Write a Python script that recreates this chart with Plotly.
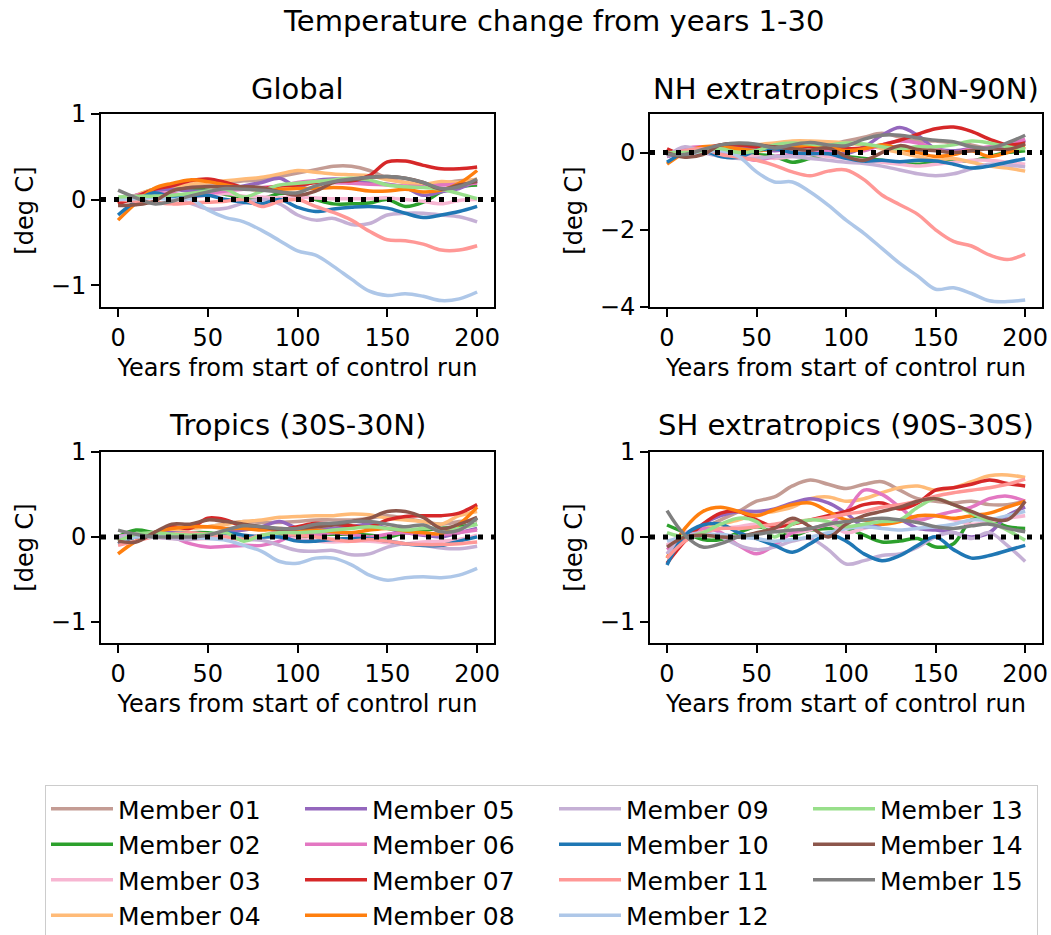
import plotly.graph_objects as go

# ---------------------------------------------------------------------------
# Data: temperature change (deg C) relative to years 1-30, sampled every 10 yr
# ---------------------------------------------------------------------------
YEARS = list(range(0, 201, 10))

MEMBERS = [f"Member {i:02d}" for i in range(1, 16)]

COLORS = [
    "#c49c94", "#2ca02c", "#f7b6d2", "#ffbb78", "#9467bd",
    "#e377c2", "#d62728", "#ff7f0e", "#c5b0d5", "#1f77b4",
    "#ff9896", "#aec7e8", "#98df8a", "#8c564b", "#7f7f7f",
]

GLOBAL = [
    [-0.03, 0.0, 0.08, 0.15, 0.17, 0.18, 0.19, 0.22, 0.23, 0.27, 0.31, 0.35, 0.39, 0.39, 0.34, 0.25, 0.2, 0.17, 0.19, 0.22, 0.23],
    [0.0, 0.05, 0.12, 0.15, 0.13, 0.11, 0.06, 0.03, 0.01, 0.07, 0.06, 0.0, -0.05, -0.05, -0.04, 0.0, -0.08, -0.03, 0.09, 0.15, 0.17],
    [-0.02, 0.02, 0.05, 0.0, 0.02, 0.05, 0.07, 0.04, 0.03, 0.02, 0.03, 0.02, 0.01, 0.01, 0.01, 0.02, 0.0, -0.02, -0.05, -0.01, 0.0],
    [-0.05, 0.05, 0.12, 0.15, 0.18, 0.2, 0.22, 0.24, 0.26, 0.3, 0.34, 0.32, 0.3, 0.29, 0.28, 0.23, 0.2, 0.18, 0.21, 0.2, 0.24],
    [-0.02, 0.03, 0.1, 0.12, 0.1, 0.1, 0.12, 0.16, 0.2, 0.25, 0.15, 0.22, 0.24, 0.23, 0.2, 0.18, 0.14, 0.05, 0.09, 0.13, 0.22],
    [-0.02, 0.05, 0.08, 0.07, 0.05, 0.07, 0.1, 0.12, 0.14, 0.16, 0.2, 0.22, 0.2, 0.19, 0.18, 0.17, 0.16, 0.15, 0.17, 0.18, 0.19],
    [-0.05, 0.03, 0.12, 0.16, 0.22, 0.24, 0.2, 0.14, 0.13, 0.16, 0.17, 0.2, 0.22, 0.22, 0.28, 0.44, 0.45, 0.4, 0.36, 0.36, 0.38],
    [-0.24, -0.04, 0.13, 0.19, 0.23, 0.21, 0.17, 0.13, 0.11, 0.12, 0.13, 0.13, 0.14, 0.13, 0.1, 0.1, 0.12, 0.09, 0.11, 0.19, 0.34],
    [0.0, 0.03, 0.05, 0.02, -0.04, -0.11, -0.1, -0.04, 0.0, -0.05, -0.18, -0.24, -0.22, -0.29, -0.28, -0.18, -0.16, -0.16, -0.18, -0.2, -0.26],
    [-0.18, -0.02, 0.08, 0.03, 0.04, 0.05, 0.0, -0.03, -0.05, 0.0, -0.09, -0.14, -0.11, -0.09, -0.08, -0.1, -0.16, -0.21, -0.18, -0.14, -0.08],
    [0.0, -0.02, -0.03, -0.05, -0.04, -0.03, -0.02, 0.0, -0.08, -0.02, 0.0, -0.08, -0.15, -0.24, -0.37, -0.47, -0.48, -0.52, -0.59, -0.59, -0.54],
    [0.0, 0.01, 0.02, 0.0, 0.01, -0.12, -0.21, -0.26, -0.36, -0.48, -0.6, -0.65, -0.78, -0.93, -1.07, -1.12, -1.1, -1.13, -1.18, -1.16, -1.08],
    [0.03, 0.04, 0.04, 0.05, 0.07, 0.1, 0.12, 0.03, 0.1, 0.17, 0.19, 0.21, 0.23, 0.25, 0.23, 0.17, 0.15, 0.14, 0.12, 0.07, 0.01],
    [-0.07, -0.06, -0.02, 0.1, 0.14, 0.15, 0.15, 0.15, 0.14, 0.09, 0.05, 0.1, 0.2, 0.23, 0.26, 0.27, 0.25, 0.2, 0.12, 0.17, 0.21],
    [0.11, 0.02, -0.05, -0.02, 0.04, 0.09, 0.13, 0.12, 0.11, 0.09, 0.08, 0.16, 0.21, 0.24, 0.26, 0.27, 0.25, 0.2, 0.13, 0.15, 0.24],
]

NH = [
    [0.0, -0.1, 0.0, 0.2, 0.2, 0.15, 0.1, 0.2, 0.25, 0.2, 0.3, 0.4, 0.5, 0.4, 0.3, 0.3, 0.25, 0.2, 0.1, 0.15, 0.3],
    [-0.05, -0.05, 0.0, 0.05, 0.0, -0.05, -0.1, -0.25, -0.15, -0.05, -0.1, -0.15, -0.2, -0.28, -0.3, -0.25, -0.22, -0.22, -0.1, 0.0, 0.05],
    [-0.05, 0.0, 0.05, 0.0, -0.05, -0.1, -0.15, -0.1, -0.05, -0.1, -0.15, -0.2, -0.25, -0.3, -0.35, -0.3, -0.25, -0.2, -0.2, -0.25, -0.3],
    [-0.1, 0.05, 0.1, 0.05, 0.1, 0.2, 0.25, 0.3, 0.3, 0.28, 0.25, 0.2, 0.1, 0.0, -0.1, -0.2, -0.15, -0.25, -0.35, -0.4, -0.48],
    [-0.1, 0.0, 0.05, 0.1, 0.15, 0.1, 0.05, 0.1, 0.05, 0.0, -0.02, 0.15, 0.45, 0.65, 0.45, 0.1, 0.05, 0.1, 0.1, 0.15, 0.32],
    [-0.1, 0.1, 0.15, 0.0, -0.1, -0.2, -0.1, -0.05, 0.0, 0.05, 0.1, 0.05, 0.2, 0.3, 0.25, 0.1, 0.0, 0.1, 0.15, 0.2, 0.35],
    [0.1, -0.05, 0.1, 0.2, 0.2, 0.15, 0.15, 0.18, 0.15, 0.12, 0.1, 0.12, 0.2, 0.32, 0.48, 0.62, 0.66, 0.55, 0.35, 0.2, 0.25],
    [-0.3, 0.0, 0.15, 0.15, 0.1, 0.05, 0.1, 0.15, 0.2, 0.15, 0.05, 0.1, 0.2, 0.1, 0.0, -0.1, -0.05, 0.05, -0.1, 0.0, 0.15],
    [-0.1, 0.15, 0.0, -0.1, -0.15, -0.15, -0.1, -0.1, -0.15, -0.2, -0.25, -0.28, -0.35, -0.45, -0.55, -0.6, -0.55, -0.42, -0.3, -0.32, -0.37],
    [-0.25, 0.0, 0.05, -0.1, -0.12, 0.05, 0.1, 0.0, -0.03, -0.03, -0.15, -0.22, -0.2, -0.24, -0.2, -0.22, -0.3, -0.4, -0.35, -0.25, -0.16],
    [-0.05, 0.05, 0.1, -0.05, -0.12, -0.2, -0.33, -0.5, -0.6, -0.48, -0.45, -0.7, -1.1, -1.35, -1.6, -2.0, -2.3, -2.42, -2.65, -2.77, -2.63],
    [0.0, -0.05, 0.0, 0.05, -0.1, -0.5, -0.76, -0.76, -1.02, -1.36, -1.75, -2.09, -2.48, -2.87, -3.2, -3.54, -3.5, -3.65, -3.84, -3.86, -3.82],
    [0.0, 0.0, 0.05, 0.1, 0.0, 0.05, 0.2, 0.25, 0.22, 0.2, 0.25, 0.22, 0.15, 0.1, 0.15, 0.15, 0.2, 0.3, 0.25, 0.15, 0.1],
    [0.0, -0.12, -0.05, 0.2, 0.23, 0.2, 0.15, 0.1, 0.06, 0.12, -0.1, -0.2, 0.0, 0.18, 0.08, 0.05, 0.0, 0.05, 0.1, 0.08, 0.22],
    [-0.05, -0.05, 0.08, 0.2, 0.25, 0.22, 0.12, 0.2, 0.26, 0.2, 0.18, 0.35, 0.45, 0.45, 0.38, 0.32, 0.28, 0.15, 0.12, 0.25, 0.45],
]

TROPICS = [
    [0.0, 0.02, 0.05, 0.08, 0.1, 0.12, 0.15, 0.18, 0.17, 0.17, 0.18, 0.2, 0.2, 0.2, 0.22, 0.25, 0.22, 0.18, 0.15, 0.18, 0.2],
    [0.0, 0.08, 0.05, 0.03, 0.05, 0.05, 0.02, 0.0, 0.0, 0.02, 0.0, 0.02, 0.03, 0.03, 0.02, 0.0, 0.05, 0.08, 0.1, 0.12, 0.15],
    [0.0, 0.03, 0.0, -0.02, -0.03, -0.02, 0.0, 0.02, 0.0, 0.0, -0.02, -0.05, -0.06, -0.05, -0.05, -0.07, -0.08, -0.06, -0.05, -0.03, 0.02],
    [-0.05, 0.02, 0.05, 0.08, 0.1, 0.12, 0.15, 0.18, 0.2, 0.23, 0.24, 0.25, 0.25, 0.27, 0.26, 0.22, 0.2, 0.18, 0.15, 0.25, 0.3],
    [0.0, 0.02, 0.05, 0.05, 0.03, 0.02, 0.05, 0.08, 0.12, 0.18, 0.1, 0.08, 0.1, 0.12, 0.15, 0.1, 0.05, 0.02, 0.0, 0.05, 0.1],
    [0.0, 0.03, 0.03, 0.0, -0.08, -0.12, -0.11, -0.1, -0.1, -0.05, 0.05, 0.02, 0.05, 0.03, 0.0, 0.03, 0.05, 0.03, 0.03, 0.05, 0.08],
    [-0.05, 0.0, 0.05, 0.12, 0.1, 0.22, 0.2, 0.12, 0.1, 0.08, 0.12, 0.16, 0.15, 0.13, 0.12, 0.2, 0.24, 0.25, 0.25, 0.28, 0.38],
    [-0.2, -0.05, 0.05, 0.1, 0.12, 0.12, 0.1, 0.1, 0.08, 0.1, 0.07, 0.08, 0.06, 0.05, 0.08, 0.1, 0.07, 0.05, 0.04, 0.15, 0.35],
    [0.0, 0.02, 0.0, -0.02, -0.03, 0.0, 0.02, -0.03, -0.04, -0.1, -0.16, -0.17, -0.16, -0.21, -0.2, -0.12, -0.08, -0.1, -0.13, -0.14, -0.11],
    [-0.08, 0.0, 0.02, 0.03, 0.05, 0.03, 0.05, 0.02, 0.0, 0.0, -0.05, -0.05, -0.03, -0.02, -0.02, -0.05, -0.08, -0.1, -0.1, -0.05, 0.0],
    [-0.1, -0.05, 0.0, 0.03, 0.05, 0.03, 0.0, -0.03, 0.02, 0.05, 0.02, 0.0, -0.03, -0.05, -0.03, -0.05, -0.08, -0.09, -0.09, -0.08, -0.06],
    [-0.05, 0.0, 0.0, 0.02, 0.0, -0.02, -0.04, -0.1, -0.17, -0.29, -0.31, -0.25, -0.25, -0.33, -0.45, -0.51, -0.48, -0.47, -0.48, -0.45, -0.37],
    [-0.05, 0.03, 0.05, 0.03, 0.02, 0.03, 0.05, -0.05, 0.02, 0.05, 0.05, 0.06, 0.08, 0.1, 0.12, 0.1, 0.08, 0.1, 0.1, 0.1, 0.15],
    [-0.05, -0.06, 0.05, 0.15, 0.15, 0.2, 0.18, 0.15, 0.12, 0.09, 0.1, 0.12, 0.14, 0.18, 0.22, 0.3, 0.3, 0.23, 0.1, 0.15, 0.23],
    [0.08, 0.03, 0.0, 0.0, 0.0, 0.02, 0.08, 0.13, 0.12, 0.1, 0.1, 0.15, 0.16, 0.18, 0.18, 0.15, 0.12, 0.14, 0.06, 0.08, 0.22],
]

SH = [
    [-0.1, 0.0, 0.1, 0.2, 0.3, 0.42, 0.47, 0.6, 0.67, 0.62, 0.57, 0.62, 0.65, 0.55, 0.45, 0.42, 0.4, 0.42, 0.38, 0.38, 0.42],
    [0.14, 0.05, -0.03, -0.03, 0.05, 0.12, 0.08, 0.02, 0.08, 0.1, 0.1, 0.02, -0.06, -0.05, -0.02, -0.12, -0.08, 0.2, 0.2, 0.12, 0.1],
    [-0.1, 0.05, 0.08, 0.1, 0.12, 0.15, 0.1, 0.05, 0.08, 0.15, 0.05, 0.1, 0.15, 0.2, 0.22, 0.25, 0.2, 0.15, 0.18, 0.22, 0.25],
    [-0.2, -0.05, 0.1, 0.15, 0.2, 0.28, 0.3, 0.35, 0.45, 0.47, 0.42, 0.45, 0.52, 0.58, 0.6, 0.55, 0.58, 0.65, 0.72, 0.73, 0.7],
    [-0.2, 0.0, 0.15, 0.25, 0.3, 0.3, 0.33, 0.4, 0.45, 0.4, 0.28, 0.12, 0.15, 0.2, 0.1, 0.08, 0.05, 0.0, 0.05, 0.25, 0.35],
    [-0.15, 0.0, 0.1, 0.05, -0.1, -0.2, -0.1, 0.05, 0.1, 0.15, 0.3, 0.55, 0.5, 0.35, 0.2, 0.25, 0.3, 0.35, 0.45, 0.48, 0.42],
    [-0.31, -0.05, 0.15, 0.28, 0.3, 0.2, 0.12, 0.15, 0.2, 0.25, 0.3, 0.38, 0.4, 0.33, 0.4, 0.55, 0.58, 0.62, 0.67, 0.63, 0.6],
    [-0.25, 0.1, 0.3, 0.35, 0.3, 0.25, 0.32, 0.38, 0.4, 0.3, 0.2, 0.2, 0.15, 0.18, 0.25, 0.25, 0.22, 0.25, 0.28, 0.35, 0.42],
    [-0.2, 0.0, 0.05, 0.0, -0.1, -0.15, -0.12, -0.05, -0.02, -0.15, -0.32, -0.28, -0.22, -0.2, -0.12, 0.0, 0.05, -0.02, 0.05, -0.1, -0.29],
    [-0.33, 0.02, 0.14, 0.15, 0.05, -0.02, -0.1, -0.18, -0.08, 0.03, -0.05, -0.2, -0.28, -0.22, -0.1, 0.0, -0.15, -0.25, -0.22, -0.16, -0.1],
    [-0.25, -0.05, 0.05, 0.1, 0.1, 0.12, 0.15, 0.18, 0.2, 0.23, 0.27, 0.3, 0.35, 0.38, 0.42, 0.48, 0.52, 0.55, 0.58, 0.62, 0.68],
    [-0.05, 0.0, 0.02, 0.03, 0.0, -0.02, -0.05, -0.03, 0.0, 0.05, 0.1, 0.12, 0.1, 0.08, 0.1, 0.12, 0.15, 0.2, 0.2, 0.25, 0.3],
    [0.05, 0.0, 0.05, 0.15, 0.22, 0.18, 0.0, 0.15, 0.2, 0.18, 0.12, 0.15, 0.18, 0.2, 0.35, 0.45, 0.38, 0.28, 0.18, 0.08, -0.04],
    [-0.12, 0.0, 0.02, 0.0, 0.0, 0.05, 0.1, 0.22, 0.12, 0.0, 0.15, 0.25, 0.3, 0.35, 0.42, 0.45, 0.38, 0.3, 0.22, 0.2, 0.42],
    [0.31, 0.02, -0.12, -0.08, 0.0, 0.03, 0.06, 0.08, 0.1, 0.15, 0.18, 0.2, 0.22, 0.2, 0.17, 0.12, 0.1, 0.13, 0.15, 0.1, 0.06],
]

FONT = "DejaVu Sans"
W, H = 1051, 935

# Panel layout: title, data, axis suffix, x domain, y domain, y range, y ticks
LEFT_X = [101 / W, 494 / W]
RIGHT_X = [650 / W, 1042 / W]
TOP_Y = [1 - 307 / H, 1 - 114 / H]
BOTTOM_Y = [1 - 643 / H, 1 - 452 / H]

PANELS = [
    ("Global", GLOBAL, "", LEFT_X, TOP_Y, [-1.255, 1.0], [-1, 0, 1], 6),
    ("NH extratropics (30N-90N)", NH, "2", RIGHT_X, TOP_Y, [-4.0, 1.0], [-4, -2, 0], 6),
    ("Tropics (30S-30N)", TROPICS, "3", LEFT_X, BOTTOM_Y, [-1.25, 1.0], [-1, 0, 1], 8),
    ("SH extratropics (90S-30S)", SH, "4", RIGHT_X, BOTTOM_Y, [-1.25, 1.0], [-1, 0, 1], 8),
]

# Legend: 4 columns filled top-to-bottom; the last column is a little narrower
N_ROWS = 4
ITEM_W = 62
ENTRY_W = 177
LAST_COL_W = 152

fig = go.Figure()
annotations = []
shapes = []
layout_axes = {}

for p, (title, data, sfx, xdom, ydom, yrange, yticks, tshift) in enumerate(PANELS):
    xa, ya = "x" + sfx, "y" + sfx
    for i, (name, color) in enumerate(zip(MEMBERS, COLORS)):
        row, col = i % N_ROWS, i // N_ROWS
        fig.add_trace(go.Scatter(
            x=YEARS, y=data[i], xaxis=xa, yaxis=ya,
            mode="lines", name=name, legendgroup=name,
            showlegend=(p == 0), legendrank=row * 4 + col,
            legendwidth=LAST_COL_W if col == 3 else None,
            line=dict(color=color, width=3.5, shape="spline", smoothing=1.0),
        ))

    # Dotted zero reference line across the full axis width
    shapes.append(dict(
        type="line", xref=xa + " domain", yref=ya, x0=0, x1=1, y0=0, y1=0,
        line=dict(color="black", width=5, dash="5px,8px"), layer="above",
    ))

    axis_common = dict(
        showline=True, linecolor="black", linewidth=2, mirror=True,
        ticks="outside", ticklen=8, tickwidth=2, tickcolor="black",
        showgrid=False, zeroline=False, automargin=False,
        tickfont=dict(family=FONT, size=24, color="black"),
    )
    layout_axes["xaxis" + sfx] = dict(
        axis_common, domain=xdom, anchor=ya, range=[-9.5, 209.4],
        tickvals=[0, 50, 100, 150, 200],
        title=dict(text="Years from start of control run",
                   font=dict(family=FONT, size=24, color="black"), standoff=8),
    )
    layout_axes["yaxis" + sfx] = dict(
        axis_common, domain=ydom, anchor=xa, range=yrange, tickvals=yticks,
        title=dict(text="[deg C]", font=dict(family=FONT, size=24, color="black"),
                   standoff=10),
    )
    annotations.append(dict(
        text=title, xref="paper", yref="paper",
        x=(xdom[0] + xdom[1]) / 2, y=ydom[1], xanchor="center", yanchor="bottom",
        yshift=tshift, showarrow=False,
        font=dict(family=FONT, size=29, color="black"),
    ))

annotations.append(dict(
    text="Temperature change from years 1-30", xref="paper", yref="paper",
    x=553 / W, y=1 - 21 / H, xanchor="center", yanchor="middle", showarrow=False,
    font=dict(family=FONT, size=29, color="black"),
))

fig.update_layout(
    width=W, height=H,
    margin=dict(l=0, r=0, t=0, b=0, autoexpand=False),
    paper_bgcolor="white", plot_bgcolor="white",
    font=dict(family=FONT, color="black"),
    annotations=annotations, shapes=shapes,
    showlegend=True,
    legend=dict(
        orientation="h", traceorder="normal",
        x=45 / W, y=1 - 785 / H, xanchor="left", yanchor="top",
        entrywidth=ENTRY_W, entrywidthmode="pixels", itemwidth=ITEM_W,
        bordercolor="#cccccc", borderwidth=1, bgcolor="white",
        font=dict(family=FONT, size=25, color="black"),
    ),
    **layout_axes,
)

fig.write_html("out.html")
